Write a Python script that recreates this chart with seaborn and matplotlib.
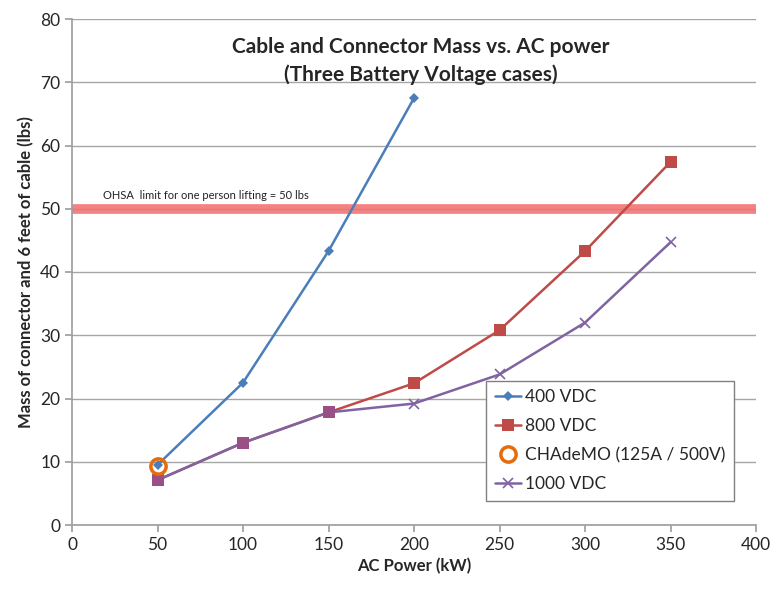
import numpy as np
import pandas as pd
import seaborn as sns
import matplotlib.pyplot as plt

#%%
# values
power_400 = [50, 100, 150, 200]
mass_400 = [9.5, 22.5, 43.3, 67.5]

power_800 = [50, 100, 150, 200, 250, 300, 350]
mass_800 = [7.1, 13.0, 17.8, 22.4, 30.8, 43.3, 57.4]

power_1000 = [50, 100, 150, 200, 250, 300, 350]
mass_1000 = [7.1, 13.0, 17.8, 19.2, 23.8, 32.0, 44.7]

chademo_power = [50]
chademo_mass = [9.4]

osha_limit = 50

#%%
sns.set_theme(style="white")
plt.rcParams['font.family'] = ['Lato', 'DejaVu Sans']

fig = plt.figure(figsize=(7.7, 5.89), dpi=100)
ax = fig.add_axes([72/770, 1 - 525/589, (756-72)/770, (525-19)/589])

ax.axhline(osha_limit, color='#F26D6D', lw=7, alpha=0.85, zorder=1)
ax.text(18, osha_limit + 1.6, 'OHSA  limit for one person lifting = 50 lbs',
        fontsize=8, color='#222222')

d400 = pd.DataFrame({'power': power_400, 'mass': mass_400})
d800 = pd.DataFrame({'power': power_800, 'mass': mass_800})
d1000 = pd.DataFrame({'power': power_1000, 'mass': mass_1000})

sns.lineplot(data=d400, x='power', y='mass', ax=ax, color='#4A7EBB', lw=1.8,
             marker='D', markersize=5, markeredgewidth=0, label='400 VDC', zorder=3)
sns.lineplot(data=d800, x='power', y='mass', ax=ax, color='#BE4B48', lw=1.8,
             marker='s', markersize=8, markeredgewidth=0, label='800 VDC', zorder=3)
ax.plot(chademo_power, chademo_mass, ls='none', marker='o', markersize=11,
        markerfacecolor='none', markeredgecolor='#E46C0A', markeredgewidth=2.5,
        label='CHAdeMO (125A / 500V)', zorder=4)
sns.lineplot(data=d1000, x='power', y='mass', ax=ax, color='#8064A2', lw=1.8,
             marker='x', markersize=7, markeredgewidth=1.2,
             markeredgecolor='#8064A2', label='1000 VDC', zorder=3)
# the 800 markers sit above the purple line
ax.plot(power_800[:3], mass_800[:3], ls='none', marker='s', markersize=8,
        color='#9B4F87', markeredgewidth=0, zorder=3.5)

ax.set_xlim(0, 400)
ax.set_ylim(0, 80)
ax.set_xticks(np.arange(0, 401, 50))
ax.set_yticks(np.arange(0, 81, 10))
ax.tick_params(axis='both', labelsize=12.5, length=5, direction='out',
               color='#A0A0A0', bottom=True, left=True)
ax.grid(axis='y', color='#A6A6A6', lw=1)
ax.set_axisbelow(True)
for s in ['top', 'right']:
    ax.spines[s].set_visible(False)
for s in ['left', 'bottom']:
    ax.spines[s].set_color('#A0A0A0')

ax.set_xlabel('AC Power (kW)', fontsize=12, fontweight='bold')
ax.set_ylabel('Mass of connector and 6 feet of cable (lbs)', fontsize=12,
              fontweight='bold')

ax.text(0.51, 0.965, 'Cable and Connector Mass vs. AC power\n(Three Battery Voltage cases)',
        transform=ax.transAxes, ha='center', va='top', fontsize=15,
        fontweight='bold', linespacing=1.45)

leg = ax.legend(loc='lower right', bbox_to_anchor=(0.98, 0.03), fontsize=12.5,
                frameon=True, fancybox=False, handlelength=1.5, handletextpad=0.2,
                borderpad=0.5, labelspacing=0.75)
leg.get_frame().set_edgecolor('#808080')
leg.get_frame().set_alpha(1)

fig.savefig('out.png', dpi=100)
